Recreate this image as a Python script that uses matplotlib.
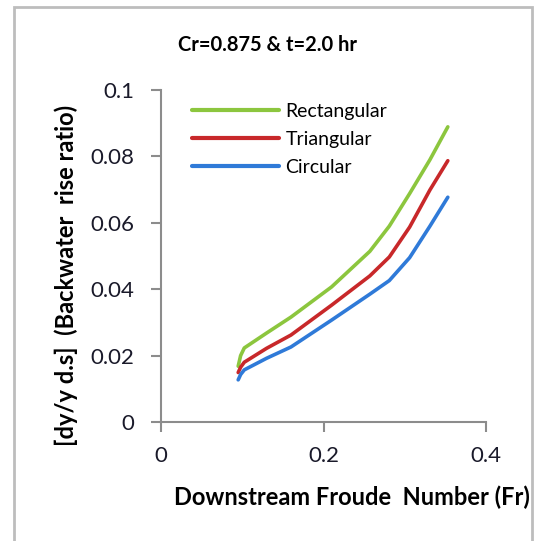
import numpy as np
import matplotlib
matplotlib.use("Agg")
import matplotlib.pyplot as plt
from matplotlib.patches import Rectangle
from matplotlib.ticker import FuncFormatter

plt.rcParams['font.family'] = ['Lato', 'DejaVu Sans']

# values
fr = [0.095, 0.098, 0.1025, 0.13, 0.16, 0.21, 0.257, 0.281, 0.306, 0.331, 0.353]
rectangular = [0.0168, 0.0200, 0.0223, 0.0268, 0.0316, 0.0407, 0.0514, 0.0590, 0.0688, 0.0790, 0.0889]
triangular = [0.0149, 0.0165, 0.0180, 0.0222, 0.0262, 0.0352, 0.0440, 0.0497, 0.0587, 0.0699, 0.0787]
circular = [0.0127, 0.0143, 0.0157, 0.0192, 0.0226, 0.0307, 0.0385, 0.0426, 0.0495, 0.0590, 0.0677]

series_names = ['Rectangular', 'Triangular', 'Circular']
colors = ['#8cc63e', '#c8282a', '#2f7ad8']

x_ticks = [0, 0.2, 0.4]
y_ticks = [0, 0.02, 0.04, 0.06, 0.08, 0.1]

W, H = 536, 541
fig = plt.figure(figsize=(W / 100, H / 100), dpi=100)

# outer chart frame
fig.patches.append(Rectangle((14 / W, -0.05), (532 - 14) / W, 1.05 - 7 / H,
                             transform=fig.transFigure, fill=False,
                             edgecolor='#bdbdbd', linewidth=2))

ax = fig.add_axes([161 / W, (H - 422) / H, 325 / W, 332 / H])

for ys, name, c in zip([rectangular, triangular, circular], series_names, colors):
    ax.plot(fr, ys, color=c, lw=2.6, label=name,
            solid_capstyle='round', solid_joinstyle='round')

ax.set_xlim(0, 0.4)
ax.set_ylim(0, 0.1)
ax.set_xticks(x_ticks)
ax.set_yticks(y_ticks)
fmt = FuncFormatter(lambda v, p: '%g' % round(v, 3))
ax.xaxis.set_major_formatter(fmt)
ax.yaxis.set_major_formatter(fmt)

for s in ['top', 'right']:
    ax.spines[s].set_visible(False)
for s in ['left', 'bottom']:
    ax.spines[s].set_color('#8c8c8c')
    ax.spines[s].set_linewidth(1.5)
ax.tick_params(direction='out', length=7, width=1.5, color='#8c8c8c',
               labelsize=16, labelcolor='#1a1a2a')
ax.tick_params(axis='y', pad=12)
ax.tick_params(axis='x', pad=10)

ax.legend(loc='upper left', bbox_to_anchor=(0.07, 0.985), frameon=False,
          fontsize=14, handlelength=4.5, handletextpad=0.33,
          labelspacing=0.57, borderaxespad=0)
for line in ax.get_legend().get_lines():
    line.set_linewidth(3)

fig.text(268 / W, 1 - 45 / H, 'Cr=0.875 & t=2.0 hr', ha='center', va='center',
         fontsize=14.5, fontweight='bold')
fig.text(352 / W, 1 - 497 / H, 'Downstream Froude  Number (Fr)', ha='center',
         va='center', fontsize=17, fontweight='bold')
fig.text(66 / W, 1 - 275 / H, '[dy/y d.s]  (Backwater  rise ratio)', ha='center',
         va='center', rotation=90, fontsize=17, fontweight='bold')

fig.savefig('out.png', dpi=100)
